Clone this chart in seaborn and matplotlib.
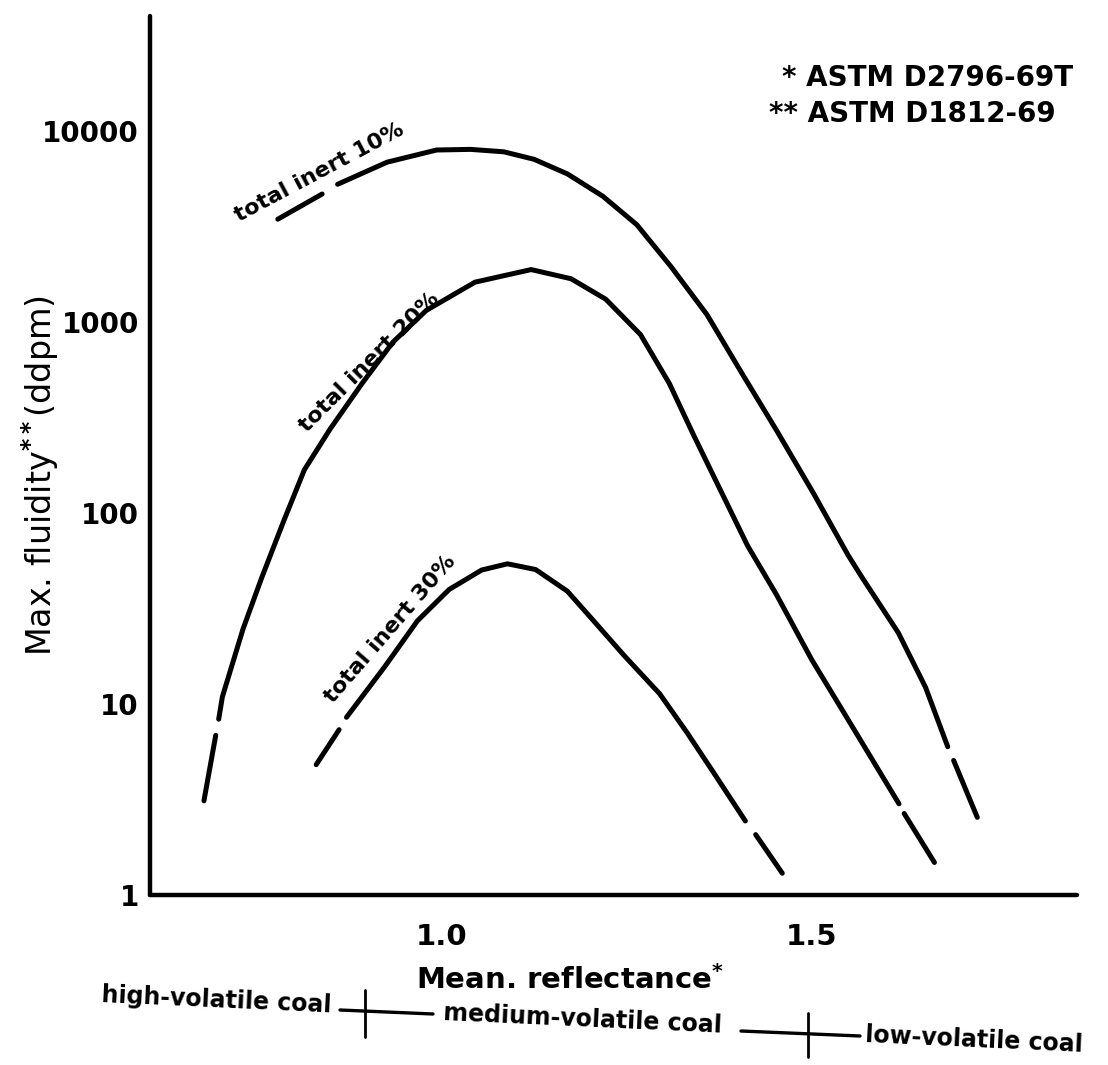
import numpy as np
import pandas as pd
import matplotlib
matplotlib.use("Agg")
import matplotlib.pyplot as plt
import seaborn as sns
from matplotlib.lines import Line2D
from matplotlib.transforms import blended_transform_factory

# ---------------- data ----------------
# total inert 10 %
inert10_r = [0.859, 0.926, 0.993, 1.039, 1.084, 1.125, 1.170, 1.218, 1.264, 1.310,
             1.359, 1.406, 1.454, 1.503, 1.550, 1.569, 1.618, 1.655, 1.685]
inert10_f = [5240, 6840, 7920, 7980, 7750, 7080, 5940, 4540, 3220, 1950,
             1090, 540, 267, 127, 60.1, 45.9, 23.6, 12.2, 5.97]
inert10_dash_left_r = [0.778, 0.838]
inert10_dash_left_f = [3440, 4660]
inert10_dash_right_r = [1.693, 1.725]
inert10_dash_right_f = [5.06, 2.55]

# total inert 20 %
inert20_r = [0.698, 0.703, 0.731, 0.756, 0.786, 0.814, 0.849, 0.892, 0.934, 0.979,
             1.045, 1.121, 1.175, 1.222, 1.269, 1.308, 1.341, 1.375, 1.414, 1.453,
             1.501, 1.549, 1.619]
inert20_f = [8.32, 10.9, 24.7, 45.5, 90.6, 168, 275, 475, 783, 1146,
             1611, 1875, 1679, 1312, 857, 476, 255, 137, 67.3, 37.4,
             17.0, 8.41, 3.00]
inert20_dash_left_r = [0.678, 0.694]
inert20_dash_left_f = [3.11, 6.85]
inert20_dash_right_r = [1.626, 1.667]
inert20_dash_right_f = [2.67, 1.48]

# total inert 30 %
inert30_r = [0.871, 0.923, 0.967, 1.010, 1.054, 1.089, 1.127, 1.170, 1.201, 1.247,
             1.295, 1.332, 1.367, 1.411]
inert30_f = [8.51, 15.7, 27.2, 39.7, 50.2, 54.1, 50.5, 38.9, 28.5, 17.9,
             11.3, 7.08, 4.43, 2.44]
inert30_dash_left_r = [0.830, 0.861]
inert30_dash_left_f = [4.81, 7.33]
inert30_dash_right_r = [1.425, 1.461]
inert30_dash_right_f = [2.07, 1.30]

curve_labels = ["total inert 10%", "total inert 20%", "total inert 30%"]
label_r = [0.834, 0.9015, 0.9305]
label_f = [6060, 611, 24.6]
label_rot = [28, 45, 49]

y_ticks = [1, 10, 100, 1000, 10000]
y_ticklabels = ["1", "10", "100", "1000", "10000"]
x_ticks = [1.0, 1.5]
x_ticklabels = ["1.0", "1.5"]
rank_boundaries = [0.896, 1.496]
rank_names = ["high-volatile coal", "medium-volatile coal", "low-volatile coal"]
notes = ["* ASTM D2796-69T", "** ASTM D1812-69"]

# ---------------- build table ----------------
segments = [
    ("s10", inert10_r, inert10_f),
    ("d10a", inert10_dash_left_r, inert10_dash_left_f),
    ("d10b", inert10_dash_right_r, inert10_dash_right_f),
    ("s20", inert20_r, inert20_f),
    ("d20a", inert20_dash_left_r, inert20_dash_left_f),
    ("d20b", inert20_dash_right_r, inert20_dash_right_f),
    ("s30", inert30_r, inert30_f),
    ("d30a", inert30_dash_left_r, inert30_dash_left_f),
    ("d30b", inert30_dash_right_r, inert30_dash_right_f),
]
rows = []
for name, rr, ff in segments:
    for a, b in zip(rr, ff):
        rows.append({"segment": name, "reflectance": a, "fluidity": b})
df = pd.DataFrame(rows)

# ---------------- figure ----------------
sns.set_theme(style="white")
plt.rcParams["font.family"] = ["DejaVu Sans"]
plt.rcParams.update({"text.color": "black", "axes.labelcolor": "black",
                     "xtick.color": "black", "ytick.color": "black"})
W, H = 1108, 1065
fig = plt.figure(figsize=(W / 100, H / 100), dpi=100)
fig.patch.set_facecolor("white")

def fx(px):
    return px / W

def fy(py):
    return 1 - py / H

ax = fig.add_axes([fx(150), fy(895), fx(1077) - fx(150), fy(16) - fy(895)])
ax.set_facecolor("white")

sns.lineplot(data=df, x="reflectance", y="fluidity", units="segment",
             estimator=None, color="black", lw=3.6, ax=ax, legend=False,
             solid_capstyle="round", solid_joinstyle="round")

ax.set_yscale("log")
ax.set_xlim(0.605, 1.86)
ax.set_ylim(1, 10 ** 4.6)
ax.set_yticks(y_ticks)
ax.set_yticklabels(y_ticklabels)
ax.minorticks_off()
ax.set_xticks(x_ticks)
ax.set_xticklabels(x_ticklabels)
ax.set_xlabel("")
ax.set_ylabel("")

sns.despine(ax=ax)
for side in ["left", "bottom"]:
    ax.spines[side].set_linewidth(3.2)
    ax.spines[side].set_color("black")
    ax.spines[side].set_capstyle("round")
ax.tick_params(axis="both", direction="in", length=11, width=1.6, color="black",
               labelcolor="black")
ax.tick_params(axis="y", pad=8, labelsize=20)
ax.tick_params(axis="x", pad=20, labelsize=21)
for lab in ax.get_xticklabels() + ax.get_yticklabels():
    lab.set_fontweight("bold")

# curve labels
for txt, r, f, rot in zip(curve_labels, label_r, label_f, label_rot):
    ax.text(r, f, txt, rotation=rot, rotation_mode="anchor", ha="center",
            va="center", fontsize=16, fontweight="bold", color="black")

# axis titles
fig.text(fx(40), fy(475), r"Max. fluidity$^{\bf{**}}$(ddpm)", rotation=90,
         ha="center", va="center", fontsize=24, color="black")
fig.text(fx(570), fy(980), r"Mean. reflectance$^{\bf{*}}$", ha="center",
         va="center", fontsize=21, fontweight="bold", color="black")

# notes
fig.text(fx(782), fy(78), notes[0], ha="left", va="center", fontsize=20,
         fontweight="bold", color="black")
fig.text(fx(769), fy(114), notes[1], ha="left", va="center", fontsize=20,
         fontweight="bold", color="black")

# coal rank row
tilt = -2.6
fig.text(fx(216), fy(1000), rank_names[0], rotation=tilt, rotation_mode="anchor",
         ha="center", va="center", fontsize=17, fontweight="bold", color="black")
fig.text(fx(583), fy(1019), rank_names[1], rotation=tilt, rotation_mode="anchor",
         ha="center", va="center", fontsize=17, fontweight="bold", color="black")
fig.text(fx(974), fy(1040), rank_names[2], rotation=tilt, rotation_mode="anchor",
         ha="center", va="center", fontsize=17, fontweight="bold", color="black")

trans = blended_transform_factory(ax.transData, fig.transFigure)
b1, b2 = rank_boundaries
# connecting lines
fig.add_artist(Line2D([fx(340), fx(433)], [fy(1010), fy(1014)],
                      transform=fig.transFigure, color="black", lw=2.4))
fig.add_artist(Line2D([fx(741), fx(860)], [fy(1031), fy(1036)],
                      transform=fig.transFigure, color="black", lw=2.4))
# crosses at rank boundaries
fig.add_artist(Line2D([b1, b1], [fy(990), fy(1037)], transform=trans,
                      color="black", lw=2.0))
fig.add_artist(Line2D([b2, b2], [fy(1013), fy(1057)], transform=trans,
                      color="black", lw=2.0))

fig.savefig("out.png", dpi=100, facecolor="white")
